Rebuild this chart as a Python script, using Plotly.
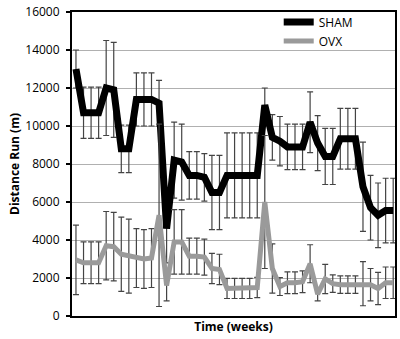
import plotly.graph_objects as go

weeks = list(range(1, 44))

sham = [13000, 10700, 10700, 10700, 12000, 11900, 8800, 8800, 11400, 11400,
        11400, 11200, 4600, 8200, 8100, 7400, 7400, 7300, 6500, 6500,
        7400, 7400, 7400, 7400, 7400, 11100, 9400, 9200, 8900, 8900,
        8900, 10200, 9100, 8400, 8400, 9330, 9330, 9330, 6800, 5700,
        5300, 5550, 5550]
sham_err = [1000, 1350, 1350, 1350, 2500, 2500, 1250, 1250, 1400, 1400,
            1400, 1200, 1800, 2000, 2000, 1250, 1250, 1250, 1950, 1950,
            2240, 2240, 2240, 2240, 2240, 900, 1200, 1300, 1200, 1200,
            1200, 1600, 1450, 1480, 1480, 1600, 1600, 1600, 2350, 1700,
            1700, 1700, 1700]

ovx = [2950, 2800, 2800, 2800, 3700, 3650, 3250, 3150, 3050, 3000,
       3050, 5300, 1600, 3900, 3900, 3150, 3150, 3100, 2500, 2450,
       1450, 1450, 1450, 1450, 1500, 6000, 2500, 1550, 1750, 1750,
       1800, 2750, 1150, 1950, 1700, 1650, 1650, 1650, 1700, 1650,
       1450, 1750, 1750]
ovx_err = [1830, 1100, 1100, 1100, 1800, 1800, 1950, 1950, 1550, 1550,
           1550, 4800, 800, 1700, 1700, 950, 950, 950, 800, 800,
           530, 530, 530, 530, 530, 3500, 1300, 470, 570, 570,
           570, 1000, 350, 770, 460, 460, 460, 460, 1160, 850,
           850, 830, 830]

y_ticks = [0, 2000, 4000, 6000, 8000, 10000, 12000, 14000, 16000]

font_family = "Open Sans, Liberation Sans, sans-serif"

fig = go.Figure()

fig.add_trace(go.Scatter(
    x=weeks, y=sham, name="SHAM", mode="lines",
    line=dict(color="#000000", width=7),
    error_y=dict(type="data", array=sham_err, visible=True,
                 color="#444444", thickness=1.2, width=3),
    legendrank=1,
))
fig.add_trace(go.Scatter(
    x=weeks, y=ovx, name="OVX", mode="lines",
    line=dict(color="#9a9a9a", width=5),
    error_y=dict(type="data", array=ovx_err, visible=True,
                 color="#444444", thickness=1.2, width=3),
    legendrank=2,
))

fig.update_layout(
    width=400, height=339,
    margin=dict(l=72, r=3, t=5, b=23),
    paper_bgcolor="white", plot_bgcolor="white",
    font=dict(family=font_family, size=12, color="#000000"),
    showlegend=True,
    legend=dict(x=0.64, y=1.015, xanchor="left", yanchor="top",
                bgcolor="rgba(0,0,0,0)", itemwidth=30,
                font=dict(size=12, family=font_family),
                tracegroupgap=0),
    xaxis=dict(range=[0.474, 43.24], showgrid=False, zeroline=False,
               showticklabels=False, ticks="",
               showline=True, linecolor="#000000", linewidth=2, mirror=True,
               title=dict(text="<b>Time (weeks)</b>", standoff=6,
                          font=dict(size=12, family=font_family))),
    yaxis=dict(range=[0, 16000], tickvals=y_ticks,
               ticktext=[str(v) for v in y_ticks],
               showgrid=True, gridcolor="#b0b0b0", gridwidth=1,
               zeroline=False, ticks="outside", ticklen=4, tickwidth=1.5,
               tickcolor="#000000", ticklabelstandoff=4,
               ticklabeloverflow="allow",
               showline=True, linecolor="#000000", linewidth=2, mirror=True,
               tickfont=dict(size=12, family=font_family),
               title=dict(text="<b>Distance Run (m)</b>", standoff=3,
                          font=dict(size=12, family=font_family))),
)

fig.write_html("out.html")
